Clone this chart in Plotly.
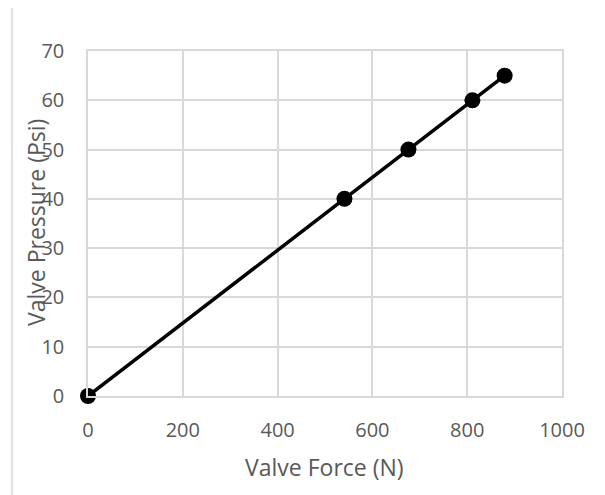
import plotly.graph_objects as go

force_n = [0, 541, 676, 811, 879]
pressure_psi = [0, 40, 50, 60, 65]
x_ticks = [0, 200, 400, 600, 800, 1000]
y_ticks = [0, 10, 20, 30, 40, 50, 60, 70]

W, H = 605, 495
OFF = 8  # page body margin
PL, PR, PT, PB = 88, 562, 51, 396  # target plot area in window pixels
L, T = PL - OFF, PT - OFF
R = W + OFF - PR
B = H + OFF - PB
pw, ph = PR - PL, PB - PT
font = "Open Sans"
grey = "#595959"


def px(xw):
    return (xw - PL) / pw


def py(yw):
    return (PB - yw) / ph


fig = go.Figure()
fig.add_trace(go.Scatter(
    x=force_n, y=pressure_psi, mode="lines+markers",
    line=dict(color="black", width=3.5),
    marker=dict(color="black", size=16),
    cliponaxis=False, showlegend=False,
))

fig.update_layout(
    width=W, height=H,
    margin=dict(l=L, r=R, t=T, b=B),
    paper_bgcolor="white", plot_bgcolor="white",
    font=dict(family=font, size=20, color=grey),
    xaxis=dict(range=[0, 1000], tickvals=x_ticks, showgrid=True, gridcolor="#d9d9d9",
               gridwidth=1.5, zeroline=False, showline=True, linecolor="#d9d9d9", linewidth=1.5,
               mirror=True, ticks="", ticklabelstandoff=15, fixedrange=True),
    yaxis=dict(range=[0, 70], tickvals=y_ticks, showgrid=True, gridcolor="#d9d9d9",
               gridwidth=1.5, zeroline=False, showline=True, linecolor="#d9d9d9", linewidth=1.5,
               mirror=True, ticks="", ticklabelstandoff=18, fixedrange=True),
    annotations=[
        dict(text="Valve Force (N)", xref="paper", yref="paper",
             x=px(324), y=py(467), showarrow=False,
             xanchor="center", yanchor="middle", font=dict(family=font, size=23, color=grey)),
        dict(text="Valve Pressure (Psi)", xref="paper", yref="paper",
             x=px(36), y=py(223), showarrow=False, textangle=-90,
             xanchor="center", yanchor="middle", font=dict(family=font, size=23, color=grey)),
    ],
    shapes=[dict(type="line", xref="paper", yref="paper",
                 x0=px(12), x1=px(12), y0=py(0), y1=py(H),
                 line=dict(color="#d9d9d9", width=1.5))],
)

fig.write_html("out.html")
